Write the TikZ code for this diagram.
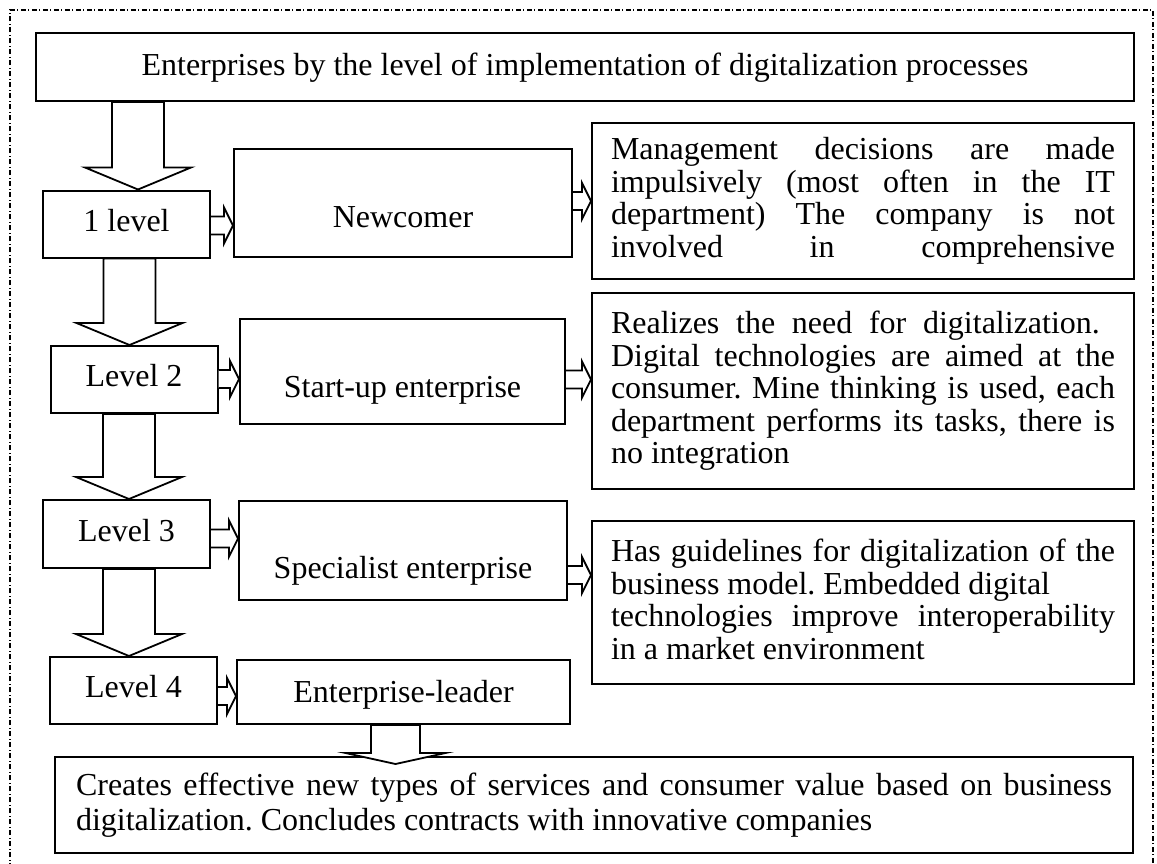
\documentclass[tikz,border=0pt]{standalone}
\usepackage{fontspec}
\setmainfont{Liberation Serif}
\usetikzlibrary{calc}

% hollow block arrows between two boxes
\newcommand\blockdown[3]{%
  \draw[blk] let \p1=(#1.south), \p2=(#2.north), \p3=(#3,0) in
    (\x3-13pt,\y1) -- (\x3-13pt,\y2+11pt) -- (\x3-26.5pt,\y2+11pt) -- (\x3,\y2)
    -- (\x3+26.5pt,\y2+11pt) -- (\x3+13pt,\y2+11pt) -- (\x3+13pt,\y1) -- cycle;}
\newcommand\blockright[3]{%
  \draw[blk] let \p1=(#1.east), \p2=(#2.west), \p3=(0,#3) in
    (\x1,\y3-4.5pt) -- (\x2-4.5pt,\y3-4.5pt) -- (\x2-4.5pt,\y3-9pt) -- (\x2,\y3)
    -- (\x2-4.5pt,\y3+9pt) -- (\x2-4.5pt,\y3+4.5pt) -- (\x1,\y3+4.5pt);}
% one line spread to the full text width
\newcommand\fullline[1]{\makebox[\hsize][s]{#1}}

\begin{document}
\frenchspacing
\begin{tikzpicture}[x=0.5pt,y=-0.5pt,
    box/.style={draw, line width=1pt, rectangle, inner sep=0pt,
      font=\fontsize{16}{16.25}\selectfont},
    lvl/.style={box, minimum width=83.5pt, minimum height=33.5pt,
      text height=7pt, text depth=0pt},
    kind/.style={box, text height=#1, text depth=0pt},
    note/.style={box, align=justify, text width=252pt, inner xsep=9.5pt},
    blk/.style={line width=0.9pt, fill=white},
    frame/.style={line width=0.6pt, dash pattern=on 2.5pt off 1.2pt on 0.5pt off 1.3pt}]
  \useasboundingbox (0,0) rectangle (1157,863);
  \draw[frame] (10,868) -- (10,10) -- (1153,10) -- (1153,868);

  \node[kind=8pt, minimum width=549pt, minimum height=34pt] (title) at (585,67)
    {Enterprises by the level of implementation of digitalization processes};

  \node[lvl] (lvl1) at (126.5,224) {1 level};
  \node[lvl] (lvl2) at (134,379.5) {Level 2};
  \node[lvl, minimum height=34pt] (lvl3) at (126.5,534) {Level 3};
  \node[lvl] (lvl4) at (133.5,690.5) {Level 4};

  \node[kind=24pt, minimum width=169pt, minimum height=54pt] (newcomer) at (403,203) {Newcomer};
  \node[kind=25.5pt, minimum width=162.5pt, minimum height=52.5pt] (startup) at (402.5,371.5) {Start-up enterprise};
  \node[kind=27.5pt, minimum width=164pt, minimum height=49.5pt] (specialist) at (403,550.5) {Specialist enterprise};
  \node[kind=10pt, minimum width=166.5pt, minimum height=32pt] (leader) at (403.5,692) {Enterprise-leader};

  \node[note, minimum height=78pt] (descA) at (863,201)
    {\fullline{Management decisions are made}\\
     \fullline{impulsively (most often in the IT}\\
     \fullline{department) The company is not}\\
     \fullline{involved in comprehensive}};
  \node[note, minimum height=98pt] (descB) at (863,391)
    {\makebox[0.97\hsize][s]{Realizes the need for digitalization.}\\
     \fullline{Digital technologies are aimed at the}\\
     \fullline{consumer. Mine thinking is used, each}\\
     \fullline{department performs its tasks, there is}\\
     no integration};
  \node[note, minimum height=81.5pt] (descC) at (863,602.5)
    {\fullline{Has guidelines for digitalization of the}\\
     \mbox{business model. Embedded digital}\\
     \fullline{technologies improve interoperability}\\
     in a market environment\vphantom{y}};

  \node[box, align=justify, text width=518pt, inner xsep=10.5pt, minimum height=48pt,
    font=\fontsize{16}{17.5}\selectfont] (final) at (594,805)
    {\fullline{Creates effective new types of services and consumer value based on business}\\
     digitalization. Concludes contracts with innovative companies};

  \blockdown{title}{lvl1}{138}
  \blockdown{lvl1}{lvl2}{129.5}
  \blockdown{lvl2}{lvl3}{129}
  \blockdown{lvl3}{lvl4}{129}

  \blockright{lvl1}{newcomer}{225.5}
  \blockright{newcomer}{descA}{201}
  \blockright{lvl2}{startup}{379}
  \blockright{startup}{descB}{379.5}
  \blockright{lvl3}{specialist}{538.5}
  \blockright{specialist}{descC}{575}
  \blockright{lvl4}{leader}{696}

  \draw[blk] let \p1=(leader.south), \p2=(final.north), \p3=(395.5,0) in
    (\x3-12.25pt,\y1) -- (\x3-12.25pt,\y2+1.5pt) -- (\x3-25pt,\y2+1.5pt) -- (\x3,\y2-4pt)
    -- (\x3+25pt,\y2+1.5pt) -- (\x3+12.25pt,\y2+1.5pt) -- (\x3+12.25pt,\y1) -- cycle;
\end{tikzpicture}
\end{document}
